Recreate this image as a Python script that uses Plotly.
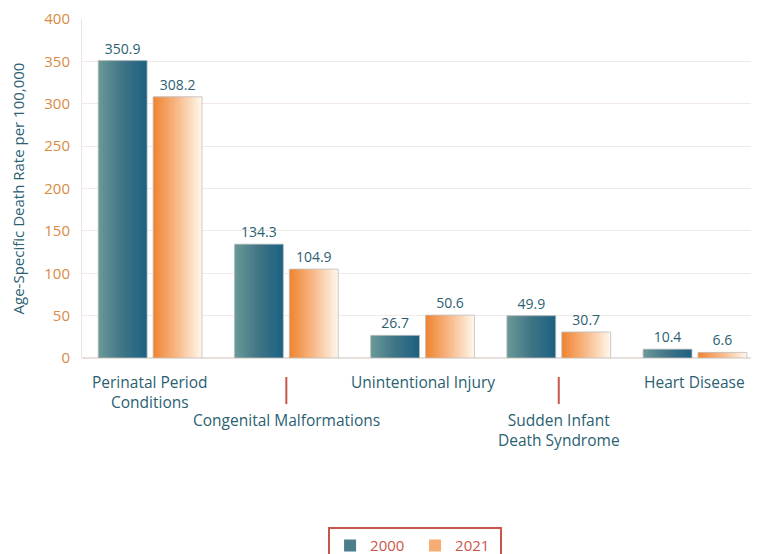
import plotly.graph_objects as go

categories = ["Perinatal Period<br>Conditions", "Congenital Malformations",
              "Unintentional Injury", "Sudden Infant<br>Death Syndrome", "Heart Disease"]
label_rows = ["top", "bottom", "top", "bottom", "top"]
vals_2000 = [350.9, 134.3, 26.7, 49.9, 10.4]
vals_2021 = [308.2, 104.9, 50.6, 30.7, 6.6]
y_ticks = [0, 50, 100, 150, 200, 250, 300, 350, 400]

TEAL_TXT = "#2b5f72"
ORANGE_TXT = "#d98b3f"
RED = "#c9564a"
FONT = "Open Sans"

x = list(range(len(categories)))
fig = go.Figure()

def lerp(c1, c2, t):
    return "rgb(%d,%d,%d)" % tuple(round(a + (b - a) * t) for a, b in zip(c1, c2))

series = [
    ("2000", vals_2000, -0.381, [(104, 152, 150), (64, 116, 134), (28, 98, 130)]),
    ("2021", vals_2021, 0.022, [(240, 134, 52), (248, 186, 138), (254, 245, 232)]),
]
W = 0.359
N = 20
for name, vals, off, stops in series:
    for k in range(N):
        t = k / (N - 1)
        if t < 0.5:
            col = lerp(stops[0], stops[1], t * 2)
        else:
            col = lerp(stops[1], stops[2], (t - 0.5) * 2)
        sw = W / N
        wk = sw * 1.6 if k < N - 1 else sw
        fig.add_trace(go.Bar(
            x=x, y=vals, name=name, legendgroup=name,
            showlegend=(k == N // 2 - 3),
            offset=off + k * sw, width=wk,
            marker=dict(color=col, line=dict(width=0)),
            hoverinfo="skip",
        ))
    fig.add_trace(go.Bar(
        x=x, y=vals, name=name, legendgroup=name, showlegend=False,
        offset=off, width=W,
        marker=dict(color="rgba(0,0,0,0)", line=dict(color="rgba(190,190,190,0.8)", width=1)),
        text=[f"{v:.1f}" for v in vals], textposition="outside",
        textfont=dict(color=TEAL_TXT, size=14, family=FONT),
        cliponaxis=False,
    ))

annotations = []
for i, (cat, row) in enumerate(zip(categories, label_rows)):
    annotations.append(dict(
        x=i, xref="x", y=-0.032 if row == "top" else -0.146, yref="paper",
        text=cat, showarrow=False, xanchor="center", yanchor="top",
        font=dict(color=TEAL_TXT, size=15.5, family=FONT), align="center",
    ))

shapes = []
for i, row in enumerate(label_rows):
    if row == "bottom":
        shapes.append(dict(type="line", xref="x", yref="paper", x0=i, x1=i,
                           y0=-0.056, y1=-0.136, line=dict(color=RED, width=2)))

fig.update_layout(
    width=751, height=546,
    margin=dict(l=74, r=0, t=11, b=196, autoexpand=False),
    paper_bgcolor="white", plot_bgcolor="white",
    barmode="overlay",
    font=dict(family=FONT),
    xaxis=dict(range=[-0.5, 4.47], showticklabels=False, showgrid=False,
               zeroline=False, showline=False, fixedrange=True),
    yaxis=dict(range=[0, 400], tickvals=y_ticks, showgrid=True, gridcolor="#f1e9e5",
               gridwidth=1, zeroline=True, zerolinecolor="#e6dfdb",
               showline=True, linecolor="#ede3df", linewidth=1,
               tickfont=dict(color=ORANGE_TXT, size=15, family=FONT),
               ticklabelstandoff=8,
               title=dict(text="Age-Specific Death Rate per 100,000",
                          font=dict(color=TEAL_TXT, size=15, family=FONT), standoff=20)),
    legend=dict(orientation="h", x=0.492, xanchor="center", y=-0.499, yanchor="top",
                bordercolor=RED, borderwidth=2, font=dict(color=RED, size=15, family=FONT),
                itemwidth=30, entrywidth=40, traceorder="normal"),
    annotations=annotations, shapes=shapes,
    showlegend=True,
)

fig.write_html("out.html")
